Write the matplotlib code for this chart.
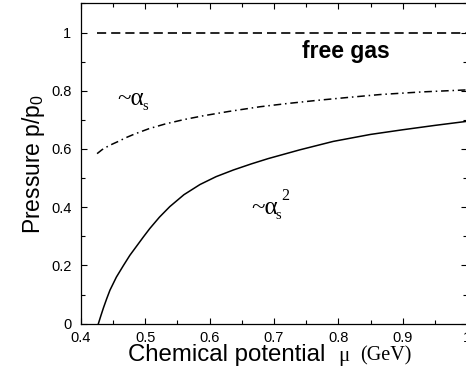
import matplotlib
matplotlib.use('Agg')
import matplotlib.pyplot as plt
from matplotlib.ticker import MultipleLocator, FormatStrFormatter

# values
mu_free = [0.425, 1.0]
p_free = [1.0, 1.0]

mu_as = [0.425, 0.433, 0.44, 0.448, 0.458, 0.47, 0.484, 0.506, 0.531, 0.56, 0.59, 0.63,
         0.678, 0.72, 0.767, 0.815, 0.865, 0.93, 1.0]
p_as = [0.584, 0.598, 0.607, 0.616, 0.626, 0.639, 0.652, 0.670, 0.686, 0.701, 0.714, 0.729,
        0.745, 0.756, 0.767, 0.777, 0.787, 0.796, 0.803]

mu_as2 = [0.427, 0.431, 0.435, 0.44, 0.445, 0.455, 0.466, 0.476, 0.487, 0.497, 0.507,
          0.522, 0.538, 0.56, 0.585, 0.61, 0.637, 0.665, 0.691, 0.74, 0.792, 0.85, 0.9,
          0.95, 1.0]
p_as2 = [0.0, 0.028, 0.055, 0.086, 0.115, 0.160, 0.200, 0.235, 0.268, 0.298, 0.327,
         0.366, 0.402, 0.443, 0.478, 0.505, 0.528, 0.549, 0.567, 0.597, 0.626, 0.650, 0.666,
         0.681, 0.695]

plt.rcParams['font.family'] = ['Liberation Sans', 'DejaVu Sans']
plt.rcParams['mathtext.fontset'] = 'custom'
plt.rcParams['mathtext.rm'] = 'Liberation Sans'

fig = plt.figure(figsize=(4.66, 3.78), dpi=100)
ax = fig.add_axes([0.1738, 0.1437, 0.8284, 0.8473])

ax.plot(mu_free, p_free, color='black', lw=1.2, dashes=(5.5, 3))
ax.plot(mu_as, p_as, color='black', lw=1.1, dashes=(5, 2.5, 1, 2.5))
ax.plot(mu_as2, p_as2, color='black', lw=1.1)

ax.set_xlim(0.4, 1.0)
ax.set_ylim(0, 1.1)
ax.xaxis.set_major_locator(MultipleLocator(0.1))
ax.xaxis.set_minor_locator(MultipleLocator(0.05))
ax.yaxis.set_major_locator(MultipleLocator(0.2))
ax.yaxis.set_minor_locator(MultipleLocator(0.1))
ax.xaxis.set_major_formatter(FormatStrFormatter('%g'))
ax.yaxis.set_major_formatter(FormatStrFormatter('%g'))
ax.tick_params(which='both', direction='in', top=True, right=True, width=0.8)
ax.tick_params(which='major', length=4.5, labelsize=10.5)
ax.tick_params(which='minor', length=3)
ax.tick_params(axis='x', pad=5)
ax.tick_params(axis='y', pad=7)
for s in ax.spines.values():
    s.set_linewidth(0.9)

ax.set_ylabel('Pressure p/p$_{\\mathrm{0}}$', fontsize=16.5, labelpad=3)

# x label: sans text + serif mu and unit
serif = ['Liberation Serif', 'DejaVu Serif']
fig.text(0.274, 0.046, 'Chemical potential', fontsize=17.3, ha='left', va='baseline')
fig.text(0.726, 0.046, '\u03bc', fontsize=15, ha='left', va='baseline', family=serif)
fig.text(0.773, 0.046, '(GeV)', fontsize=14.5, ha='left', va='baseline', family=serif)

ax.text(0.743, 0.935, 'free gas', fontsize=16.5, fontweight='bold', ha='left', va='center')

ax.text(0.457, 0.77, '~\u03b1', fontsize=18, family=serif, ha='left', va='center')
ax.text(0.4955, 0.745, 's', fontsize=10.5, family=serif, ha='left', va='center')
ax.text(0.664, 0.398, '~\u03b1', fontsize=18, family=serif, ha='left', va='center')
ax.text(0.7025, 0.373, 's', fontsize=10.5, family=serif, ha='left', va='center')
ax.text(0.7115, 0.44, '2', fontsize=11.5, family=serif, ha='left', va='center')

fig.savefig('out.png', dpi=100)
